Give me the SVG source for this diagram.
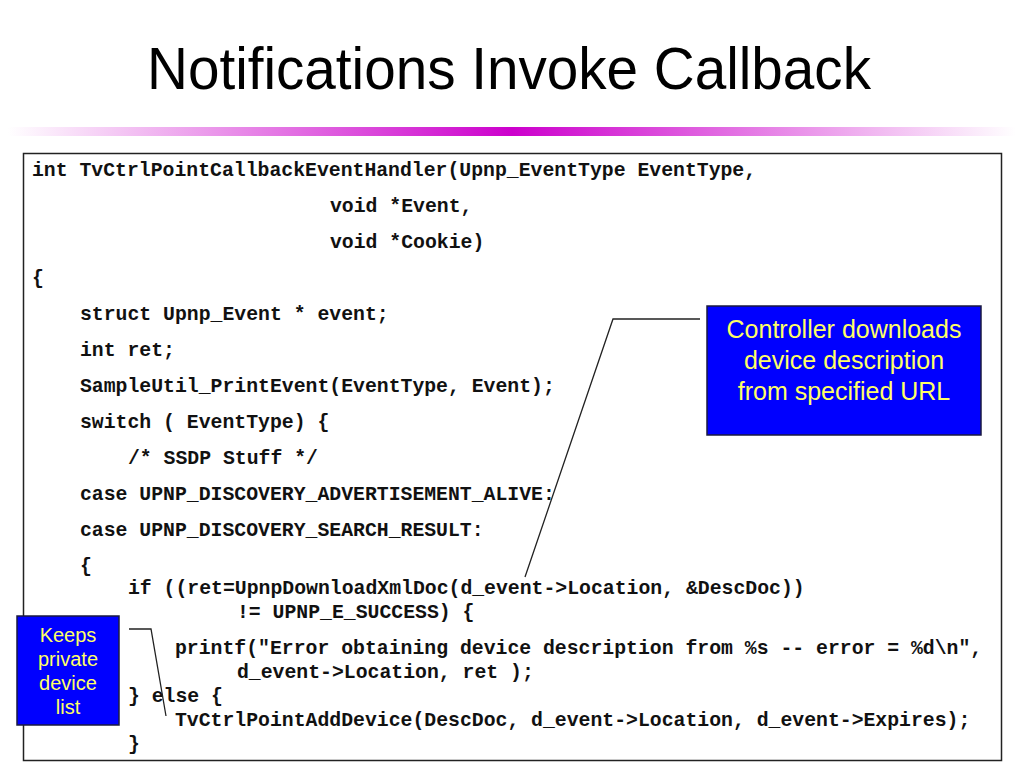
<svg xmlns="http://www.w3.org/2000/svg" width="1024" height="768" viewBox="0 0 1024 768">
<defs>
<linearGradient id="bar" x1="0" y1="0" x2="1" y2="0">
<stop offset="0" stop-color="#ffffff"/>
<stop offset="0.5" stop-color="#cc00cc"/>
<stop offset="1" stop-color="#ffffff"/>
</linearGradient>
<style>
.title{font-family:"Liberation Sans",Arial,sans-serif;font-size:60px;fill:#000}
.code{font-family:"Liberation Mono","Courier New",monospace;font-weight:bold;font-size:19.8px;fill:#111}
.note{fill:#0000ff;stroke:#1a1a40;stroke-width:1.5}
.ntext{font-family:"Liberation Sans",Arial,sans-serif;fill:#ffff66;text-anchor:middle}
.conn{fill:none;stroke:#222;stroke-width:1.3}
</style>
</defs>
<rect width="1024" height="768" fill="#fff"/>
<text class="title" x="147" y="89" textLength="724" lengthAdjust="spacingAndGlyphs">Notifications Invoke Callback</text>
<rect x="8" y="127" width="1008" height="9" fill="url(#bar)"/>
<g id="codebox">
<rect x="23.5" y="153.5" width="978" height="607" fill="#fff" stroke="#222" stroke-width="1.5"/>
<text class="code" x="32" y="176">int TvCtrlPointCallbackEventHandler(Upnp_EventType EventType,</text>
<text class="code" x="330" y="212">void *Event,</text>
<text class="code" x="330" y="248">void *Cookie)</text>
<text class="code" x="32" y="284">{</text>
<text class="code" x="80" y="320">struct Upnp_Event * event;</text>
<text class="code" x="80" y="356">int ret;</text>
<text class="code" x="80" y="392">SampleUtil_PrintEvent(EventType, Event);</text>
<text class="code" x="80" y="428">switch ( EventType) {</text>
<text class="code" x="128" y="464">/* SSDP Stuff */</text>
<text class="code" x="80" y="500">case UPNP_DISCOVERY_ADVERTISEMENT_ALIVE:</text>
<text class="code" x="80" y="536">case UPNP_DISCOVERY_SEARCH_RESULT:</text>
<text class="code" x="80" y="572">{</text>
<text class="code" x="128" y="594">if ((ret=UpnpDownloadXmlDoc(d_event-&gt;Location, &amp;DescDoc))</text>
<text class="code" x="237" y="618">!= UPNP_E_SUCCESS) {</text>
<text class="code" x="175" y="654">printf("Error obtaining device description from %s -- error = %d\n",</text>
<text class="code" x="237" y="678">d_event-&gt;Location, ret );</text>
<text class="code" x="128" y="702">} else {</text>
<text class="code" x="175" y="726">TvCtrlPointAddDevice(DescDoc, d_event-&gt;Location, d_event-&gt;Expires);</text>
<text class="code" x="128" y="750">}</text>
</g>
<g id="connectors">
<polyline class="conn" points="700,319 613,319 525,577"/>
<polyline class="conn" points="129,629 151,629 166,716"/>
</g>
<g id="note-download">
<rect class="note" x="707" y="306" width="274" height="129"/>
<text class="ntext" x="844" y="338" font-size="25">Controller downloads</text>
<text class="ntext" x="844" y="369" font-size="25">device description</text>
<text class="ntext" x="844" y="400" font-size="25">from specified URL</text>
</g>
<g id="note-private">
<rect class="note" x="17" y="616" width="102" height="109"/>
<text class="ntext" x="68" y="642" font-size="20">Keeps</text>
<text class="ntext" x="68" y="666" font-size="20">private</text>
<text class="ntext" x="68" y="690" font-size="20">device</text>
<text class="ntext" x="68" y="714" font-size="20">list</text>
</g>
</svg>
